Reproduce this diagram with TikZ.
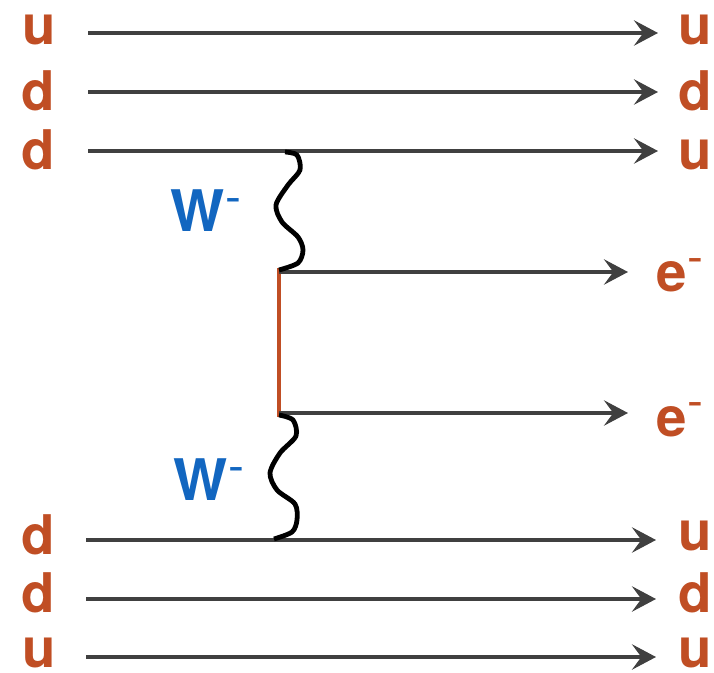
\documentclass[tikz,border=0pt]{standalone}
\usepackage{fontspec}
\setmainfont{TeX Gyre Heros}
\usetikzlibrary{arrows.meta}

\definecolor{linegray}{RGB}{64,64,64}
\definecolor{quarkorange}{RGB}{192,78,36}
\definecolor{bosonblue}{RGB}{18,102,192}

% small raised minus sign used for the charges
\newcommand{\chargeminus}{\raisebox{13.5pt}{\fontsize{36}{36}\selectfont\mdseries -}}

\tikzset{
  particle/.style={draw=linegray, line width=3.5pt,
    -{Stealth[length=18pt, width=19pt, inset=7pt]}},
  label/.style={text=quarkorange, font=\fontsize{41}{41}\selectfont\bfseries,
    inner sep=0pt, anchor=base},
  wlabel/.style={text=bosonblue, font=\fontsize{43}{43}\selectfont\bfseries,
    inner sep=0pt, anchor=base},
  propagator/.style={draw=quarkorange, line width=3.3pt},
  wboson/.style={draw=black, line width=3.6pt, line join=round}
}

\begin{document}
\begin{tikzpicture}[x=0.75pt, y=-0.75pt]
\useasboundingbox (0,0) rectangle (714,673);

% incoming quark labels
\node[label] (inA) at (39,45)  {u};
\node[label] (inB) at (38,111) {d};
\node[label] (inC) at (38,170) {d};
\node[label] (inD) at (38,554) {d};
\node[label] (inE) at (38,612) {d};
\node[label] (inF) at (39,667) {u};

% outgoing labels
\node[label] (outA) at (695,45)  {u};
\node[label] (outB) at (695,111) {d};
\node[label] (outC) at (695,170) {u};
\node[label] (outD) at (695,550) {u};
\node[label] (outE) at (695,612) {d};
\node[label] (outF) at (695,667) {u};
\node[label] (eA) at (680,292) {e\chargeminus};
\node[label] (eB) at (680,436) {e\chargeminus};

% W boson labels
\node[wlabel] (wA) at (206,232) {W\chargeminus};
\node[wlabel] (wB) at (209,500) {W\chargeminus};

% line end points
\coordinate (sA) at (88,33);   \coordinate (tA) at (658,33);
\coordinate (sB) at (88,92);   \coordinate (tB) at (658,92);
\coordinate (sC) at (88,151);  \coordinate (tC) at (658,151);
\coordinate (sD) at (86,540);  \coordinate (tD) at (656,540);
\coordinate (sE) at (86,599);  \coordinate (tE) at (656,599);
\coordinate (sF) at (86,657);  \coordinate (tF) at (656,657);

% vertices
\coordinate (vTop) at (285,152);
\coordinate (vUp)  at (279,270);
\coordinate (vDn)  at (279,415);
\coordinate (vBot) at (274,539);
\coordinate (eEndA) at (628,272);
\coordinate (eEndB) at (628,413);

% quark lines
\draw[particle] (sA) -- (tA);
\draw[particle] (sB) -- (tB);
\draw[particle] (sC) -- (tC);
\draw[particle] (sD) -- (tD);
\draw[particle] (sE) -- (tE);
\draw[particle] (sF) -- (tF);

% neutrino propagator
\draw[propagator] ([yshift=1.5pt]vUp) -- ([yshift=-1.5pt]vDn);

% outgoing electrons
\draw[particle] (vUp |- eEndA) -- (eEndA);
\draw[particle] (vDn |- eEndB) -- (eEndB);

% W boson wiggles
\draw[wboson] plot[smooth, tension=0.5] coordinates {
  (vTop) (297,155) (300,170) (288,185) (276,205) (282,222)
  (298,237) (303,250) (298,263) (vUp)};
\draw[wboson] plot[smooth, tension=0.5] coordinates {
  (vDn) (293,420) (296,436) (280,453) (270,473) (277,490)
  (295,504) (297,520) (292,532) (vBot)};
\end{tikzpicture}
\end{document}
